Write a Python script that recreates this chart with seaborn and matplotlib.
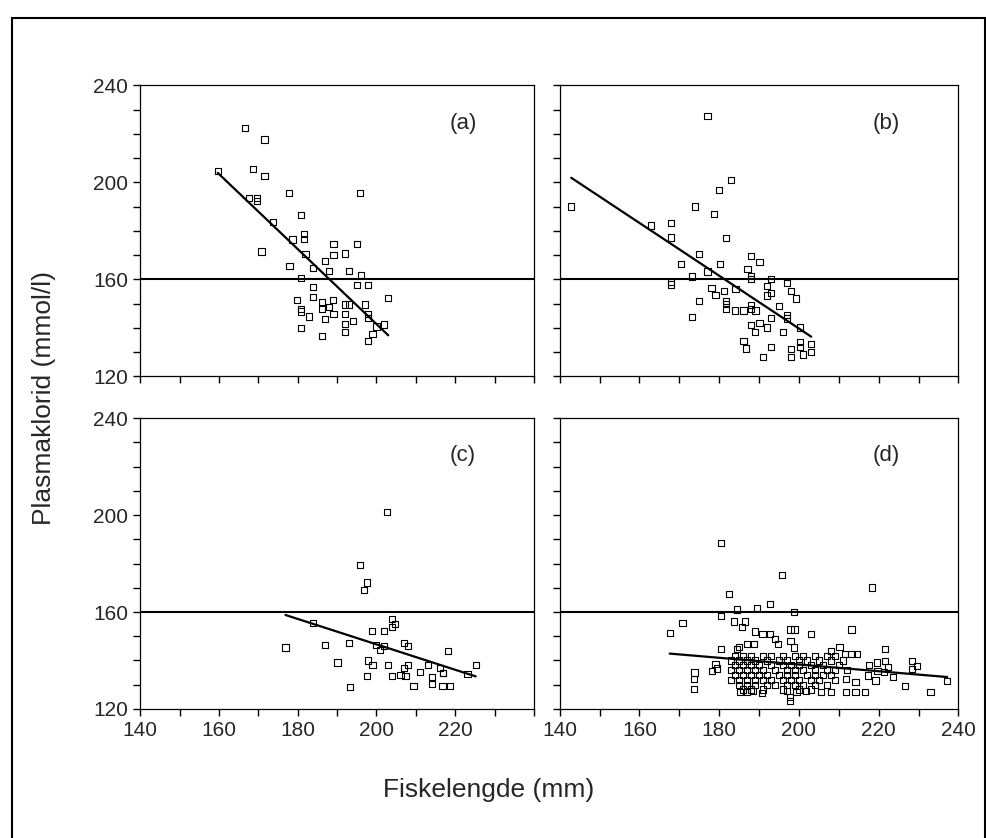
import numpy as np
import pandas as pd
import seaborn as sns
import matplotlib.pyplot as plt
from matplotlib.ticker import MultipleLocator
from matplotlib.patches import Rectangle

# panel (a)
a_x = [166.7, 171.6, 159.7, 168.7, 171.6, 177.7, 195.9, 167.6, 169.7, 169.7,
       180.8, 173.8, 181.7, 181.7, 178.7, 189.1, 195.1, 170.8, 182.0, 189.1,
       192.0, 187.0, 177.9, 183.9, 188.0, 193.1, 196.1, 180.9, 195.1, 197.9,
       183.9, 203.0, 179.8, 183.9, 186.1, 189.0, 180.9, 180.9, 186.1, 188.0,
       192.1, 193.1, 197.0, 189.1, 192.0, 182.9, 187.0, 197.9, 197.9, 192.0,
       194.0, 202.0, 200.0, 180.9, 192.0, 199.0, 186.1, 197.9]
a_y = [222.6, 217.7, 204.7, 205.5, 202.6, 195.6, 195.6, 193.5, 193.5, 192.3,
       186.5, 183.6, 178.8, 176.8, 176.4, 174.7, 174.7, 171.5, 170.6, 169.9,
       170.7, 167.7, 165.6, 164.7, 163.6, 163.6, 161.8, 160.7, 157.5, 157.5,
       156.7, 152.4, 151.6, 152.6, 150.6, 151.6, 147.6, 146.7, 147.6, 148.6,
       149.6, 149.6, 149.6, 145.6, 145.6, 144.7, 143.6, 145.6, 144.2, 141.7,
       142.7, 141.4, 140.5, 139.8, 138.4, 137.4, 136.5, 134.4]

# panel (b)
b_x = [177.1, 182.9, 179.9, 142.9, 174.0, 178.8, 162.9, 168.0, 168.0, 181.8,
       175.0, 188.0, 190.1, 170.5, 180.3, 187.1, 177.1, 173.1, 188.0, 188.0,
       193.1, 168.0, 168.0, 197.1, 178.1, 181.2, 184.1, 192.1, 193.1, 192.0,
       198.0, 179.1, 199.2, 175.0, 181.8, 181.8, 181.8, 183.9, 186.1, 188.0,
       188.0, 189.1, 195.0, 197.1, 197.1, 173.1, 193.1, 200.2, 187.9, 190.1,
       192.1, 189.0, 196.0, 186.1, 186.8, 193.1, 191.0, 198.0, 198.0, 200.2,
       200.2, 201.0, 203.1, 203.1]
b_y = [227.4, 201.1, 197.0, 190.1, 190.1, 187.1, 182.2, 183.2, 177.3, 177.1,
       170.3, 169.5, 167.3, 166.3, 166.3, 164.2, 163.2, 161.2, 161.5, 160.3,
       160.3, 158.9, 157.9, 158.5, 156.3, 155.1, 156.0, 157.1, 154.4, 153.3,
       155.1, 153.4, 152.1, 151.2, 151.2, 149.7, 147.9, 147.1, 147.1, 149.5,
       147.9, 147.1, 149.0, 145.2, 143.8, 144.4, 144.1, 140.1, 141.1, 142.1,
       140.1, 138.2, 138.2, 134.5, 131.5, 132.1, 128.1, 131.2, 128.1, 134.2,
       132.1, 129.0, 133.2, 130.0]

# panel (c)
c_x = [202.7, 195.8, 197.6, 196.8, 183.9, 203.9, 204.8, 203.9, 198.9, 201.9,
       176.9, 187.0, 193.0, 199.9, 201.9, 200.9, 206.9, 208.0, 218.2, 190.1,
       197.8, 199.0, 203.0, 206.9, 208.0, 213.1, 216.1, 216.9, 225.2, 223.1,
       197.7, 203.9, 206.1, 207.4, 217.0, 193.2, 209.4, 214.1, 214.1, 216.8,
       218.7, 211.0]
c_y = [201.4, 179.4, 172.2, 169.2, 155.5, 157.1, 155.0, 153.9, 152.2, 152.2,
       145.4, 146.4, 147.2, 146.4, 146.1, 144.2, 147.1, 146.1, 143.9, 139.2,
       140.0, 138.1, 138.1, 136.9, 138.1, 138.1, 136.9, 134.8, 138.1, 134.4,
       133.5, 133.5, 134.1, 133.7, 134.8, 129.2, 129.4, 133.1, 130.3, 129.4,
       129.6, 135.1]

# panel (d)
d_x = [180.5, 195.8, 182.4, 218.3, 184.5, 189.4, 192.7, 198.8, 180.5, 170.8,
       167.6, 183.7, 186.5, 185.8, 188.9, 190.9, 192.8, 194.1, 197.9, 198.9,
       203.0, 213.2, 186.9, 188.8, 194.8, 197.9, 180.5, 184.4, 185.0, 198.8,
       208.1, 210.2, 211.5, 213.2, 214.6, 221.5, 221.5, 219.6, 217.6, 229.7,
       173.8, 179.5, 173.6, 173.6, 178.3, 179.1,
       185.3, 186.9, 188.4, 190.8, 197.0, 199.4, 201.7, 205.6, 208.0, 211.9,
       214.2, 216.6, 197.8, 197.8,
       217.3, 219.7, 221.3, 222.3, 223.6, 226.7, 228.3, 228.3, 233.0, 237.2,
       211.9, 214.2, 219.2,
       184, 186, 188, 191, 193, 196, 199, 201, 204, 207, 209,
       183, 185, 187, 189, 192, 195, 197, 200, 202, 205, 208, 211,
       184, 186, 188, 190, 193, 196, 198, 200, 203, 206, 210,
       183, 185, 187, 189, 191, 194, 197, 199, 201, 204, 207, 209, 212,
       184, 186, 188, 190, 192, 195, 197, 199, 202, 204, 206, 208,
       183, 185, 187, 189, 191, 193, 196, 198, 200, 203, 205, 209,
       185, 187, 189, 192, 194, 197, 199, 201, 204, 207,
       186, 188, 191, 196, 200, 203]
d_y = [188.4, 175.3, 167.4, 170.1, 161.0, 161.7, 163.2, 160.0, 158.2, 155.4,
       151.3, 156.1, 156.1, 153.8, 152.0, 151.0, 151.0, 148.9, 152.8, 152.8,
       151.0, 152.8, 146.8, 146.8, 146.8, 148.2, 144.7, 144.7, 145.7, 145.4,
       144.0, 145.7, 142.7, 142.7, 142.7, 144.7, 139.9, 139.2, 138.1, 137.8,
       135.0, 136.7, 132.4, 128.3, 135.8, 138.6,
       127.0, 127.0, 127.5, 126.5, 127.5, 127.0, 127.5, 127.0, 127.0, 127.0,
       127.0, 127.0, 124.8, 123.4,
       133.8, 135.8, 135.1, 137.2, 133.1, 129.6, 139.9, 136.5, 126.9, 131.4,
       132.4, 131.0, 131.7,
       142, 142, 142, 142, 142, 142, 142, 142, 142, 142, 142,
       140, 140, 140, 140, 140, 140, 140, 140, 140, 140, 140, 140,
       138, 138, 138, 138, 138, 138, 138, 138, 138, 138, 138,
       136, 136, 136, 136, 136, 136, 136, 136, 136, 136, 136, 136, 136,
       134, 134, 134, 134, 134, 134, 134, 134, 134, 134, 134, 134,
       132, 132, 132, 132, 132, 132, 132, 132, 132, 132, 132, 132,
       130, 130, 130, 130, 130, 130, 130, 130, 130, 130,
       128, 128, 128, 128, 128, 128]

panel_labels = ['(a)', '(b)', '(c)', '(d)']
ref_level = 160
x_ticks = [140, 160, 180, 200, 220, 240]
left_xlabels = ['140', '160', '180', '200', '220', '']
right_xlabels = ['140', '160', '180', '200', '220', '240']

sns.set_style('ticks')
plt.rcParams['font.family'] = ['Liberation Sans', 'DejaVu Sans']

fig = plt.figure(figsize=(9.87, 8.38), dpi=100)

# axes boxes in figure fractions
boxes = [[0.142, 0.551, 0.399, 0.347], [0.567, 0.551, 0.404, 0.347],
         [0.142, 0.154, 0.399, 0.347], [0.567, 0.154, 0.404, 0.347]]
data = [(a_x, a_y), (b_x, b_y), (c_x, c_y), (d_x, d_y)]

for i, (box, (xs, ys)) in enumerate(zip(boxes, data)):
    ax = fig.add_axes(box)
    sns.regplot(x=xs, y=ys, ax=ax, ci=None, marker='s',
                scatter_kws=dict(facecolors='none', edgecolors='black', s=20,
                                 linewidths=0.8, alpha=1),
                line_kws=dict(color='black', lw=1.6))
    ax.axhline(ref_level, color='black', lw=1.5)
    ax.set_xlim(140, 240)
    ax.set_ylim(120, 240)
    ax.set_xticks(x_ticks)
    ax.set_yticks(range(120, 241, 40))
    ax.xaxis.set_minor_locator(MultipleLocator(10))
    ax.yaxis.set_minor_locator(MultipleLocator(10))
    ax.tick_params(which='both', direction='out', length=5, width=1,
                   color='black', labelsize=15)
    for s in ax.spines.values():
        s.set_visible(True)
        s.set_color('black')
        s.set_linewidth(0.9)
    if i < 2:
        ax.set_xticklabels([])
    elif i == 2:
        ax.set_xticklabels(left_xlabels)
    else:
        ax.set_xticklabels(right_xlabels)
    if i % 2 == 1:
        ax.set_yticklabels([])
    ax.set_xlabel('')
    ax.set_ylabel('')
    ax.text(0.82, 0.87, panel_labels[i], transform=ax.transAxes,
            ha='center', va='center', fontsize=16)

fig.text(0.045, 0.525, 'Plasmaklorid (mmol/l)', rotation=90,
         ha='center', va='center', fontsize=19)
fig.text(0.495, 0.057, 'Fiskelengde (mm)', ha='center', va='center',
         fontsize=19)

# outer frame of the figure
fig.patches.append(Rectangle((0.012, -0.01), 0.986, 0.9885,
                             transform=fig.transFigure, fill=False,
                             lw=1.5, edgecolor='black'))

fig.savefig('out.png', dpi=100)
